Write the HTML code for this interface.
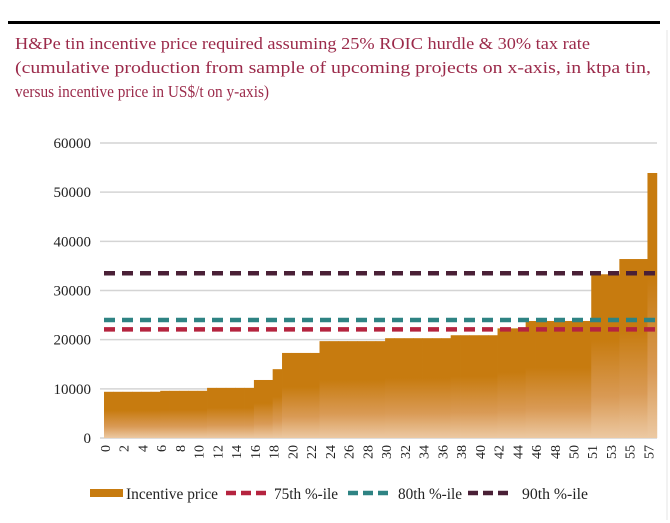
<!DOCTYPE html>
<html><head><meta charset="utf-8"><style>
html,body{margin:0;padding:0;background:#fff;}
svg{display:block;font-family:"Liberation Serif",serif;}
</style></head><body>
<svg id="chart" width="670" height="523" viewBox="0 0 670 523" xmlns="http://www.w3.org/2000/svg">
<defs>
<linearGradient id="barGrad" x1="0" y1="0" x2="0" y2="1">
<stop offset="0" stop-color="#c77b0f"/>
<stop offset="0.4" stop-color="#c77b0f"/>
<stop offset="0.75" stop-color="#d99a55"/>
<stop offset="1" stop-color="#ecc9a3"/>
</linearGradient>
</defs>
<rect x="8" y="21" width="652" height="3" fill="#000"/>
<line x1="667" y1="30" x2="667" y2="520" stroke="#e6e6e6" stroke-width="1"/>
<g fill="#9b2a4a" font-size="17">
<text x="15" y="49" textLength="575" lengthAdjust="spacingAndGlyphs">H&amp;Pe tin incentive price required assuming 25% ROIC hurdle &amp; 30% tax rate</text>
<text x="15" y="73" textLength="636" lengthAdjust="spacingAndGlyphs">(cumulative production from sample of upcoming projects on x-axis, in ktpa tin,</text>
<text x="15" y="97" font-size="17" textLength="254" lengthAdjust="spacingAndGlyphs">versus incentive price in US$/t on y-axis)</text>
</g>
<g id="grid"></g>
<g id="bars"></g>
<g id="refs"></g>
<g id="yaxis"></g>
<g id="xaxis"></g>
<g font-size="16" fill="#222">
<rect x="90" y="489" width="33" height="8" fill="#c77b0f"/>
<text x="126" y="499" textLength="92" lengthAdjust="spacingAndGlyphs">Incentive price</text>
<line x1="226" y1="493" x2="266" y2="493" stroke="#b5243f" stroke-width="4.5" stroke-dasharray="10,5"/>
<text x="274" y="499" textLength="64" lengthAdjust="spacingAndGlyphs">75th %-ile</text>
<line x1="348" y1="493" x2="388" y2="493" stroke="#2e8383" stroke-width="4.5" stroke-dasharray="10,5"/>
<text x="398" y="499" textLength="64" lengthAdjust="spacingAndGlyphs">80th %-ile</text>
<line x1="468" y1="493" x2="508" y2="493" stroke="#4a2036" stroke-width="4.5" stroke-dasharray="10,5"/>
<text x="522" y="499" textLength="66" lengthAdjust="spacingAndGlyphs">90th %-ile</text>
</g>
</svg>
<script>
const categories = [];
for (let i = 0; i <= 58; i++) categories.push(i <= 50 ? i : i - 1);
const prices = [9400,9400,9400,9400,9400,9400,9600,9600,9600,9600,9600,10200,10200,10200,10200,10200,11800,11800,14000,17300,17300,17300,17300,19700,19700,19700,19700,19700,19700,19700,20300,20300,20300,20300,20300,20300,20300,20900,20900,20900,20900,20900,22300,22300,22300,23800,23800,23800,23800,23800,23800,23800,33300,33300,33300,36400,36400,36400,53900];
const yTicks = [0,10000,20000,30000,40000,50000,60000];
const refNames = ['75th','80th','90th'];
const refValues = [22100,24000,33500];
const refColors = ['#b5243f','#2e8383','#4a2036'];

const NS = 'http://www.w3.org/2000/svg';
const X0 = 104, BW = 9.37, Y0 = 438, YS = 295/60000;
const xs = i => X0 + i * BW;
const ys = v => Y0 - v * YS;
function mk(tag, attrs, parent) {
  const e = document.createElementNS(NS, tag);
  for (const k in attrs) e.setAttribute(k, attrs[k]);
  parent.appendChild(e);
  return e;
}
const grid = document.getElementById('grid');
const yaxis = document.getElementById('yaxis');
yTicks.forEach(t => {
  const l = mk('line', {x1: 100, x2: 657, y1: ys(t), y2: ys(t), stroke: '#d4d4d4', 'stroke-width': 1.5}, grid);
  
  
  const tx = mk('text', {x: 91, y: ys(t) + 5, 'text-anchor': 'end', 'font-size': 15, fill: '#222'}, yaxis);
  tx.textContent = t;
  
  
});
const bars = document.getElementById('bars');
prices.forEach((v, i) => {
  const r = mk('rect', {x: xs(i), y: ys(v), width: BW + 0.4, height: Y0 - ys(v), fill: 'url(#barGrad)'}, bars);
  
  
});
const refs = document.getElementById('refs');
refValues.forEach((v, k) => {
  const l = mk('line', {x1: 104, x2: 657, y1: ys(v), y2: ys(v), stroke: refColors[k], 'stroke-width': 4.5, 'stroke-dasharray': '11,7'}, refs);
  
  
});
const xaxis = document.getElementById('xaxis');
categories.forEach((c, i) => {
  if (i % 2 !== 0) return;
  const x = xs(i) + 1;
  const t = mk('text', {x: 0, y: 0, 'font-size': 14, fill: '#222', 'text-anchor': 'end', transform: 'translate(' + (x + 5) + ',445) rotate(-90)'}, xaxis);
  t.textContent = c;
  
  
});
</script>
</body></html>
